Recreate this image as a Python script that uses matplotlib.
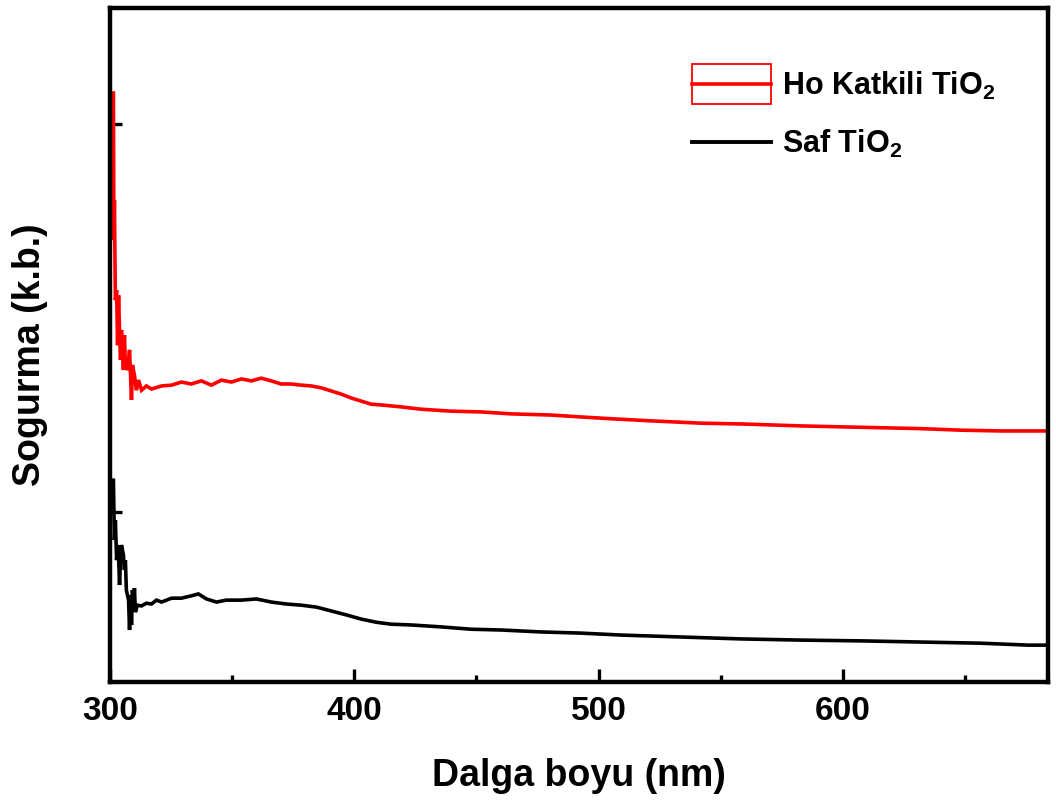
import matplotlib
matplotlib.use('Agg')
import matplotlib.pyplot as plt
from matplotlib.patches import Rectangle
from matplotlib.lines import Line2D
from matplotlib.legend_handler import HandlerBase

# ---------------- data ----------------
wavelength_ho = [301.4, 301.6, 301.8, 302.2, 302.7, 303.1, 303.5, 303.9, 304.3, 304.7,
                 305.1, 305.5, 305.9, 306.3, 307.2, 308.0, 308.8, 309.2, 310.0, 310.8,
                 311.7, 312.9, 314.9, 317.0, 321.1, 325.2, 329.2, 333.3, 337.4, 341.5,
                 345.6, 349.7, 353.8, 357.9, 361.9, 366.0, 370.1, 374.2, 378.3, 382.4,
                 386.5, 390.6, 394.6, 398.7, 402.8, 406.9, 411.0, 419.2, 427.4, 439.7,
                 452.0, 464.2, 480.6, 492.9, 506.4, 521.5, 542.0, 558.3, 582.9, 603.3,
                 631.9, 648.3, 664.6, 684.0]
absorb_ho = [2.080, 1.701, 1.804, 1.546, 1.572, 1.430, 1.559, 1.469, 1.392, 1.469,
             1.418, 1.366, 1.456, 1.379, 1.366, 1.418, 1.289, 1.379, 1.353, 1.314,
             1.340, 1.314, 1.325, 1.317, 1.325, 1.327, 1.335, 1.330, 1.338, 1.327,
             1.340, 1.335, 1.343, 1.338, 1.345, 1.338, 1.330, 1.330, 1.327, 1.325,
             1.320, 1.312, 1.304, 1.294, 1.286, 1.278, 1.276, 1.271, 1.265, 1.260,
             1.258, 1.253, 1.250, 1.245, 1.240, 1.235, 1.229, 1.227, 1.222, 1.219,
             1.215, 1.211, 1.209, 1.209]

wavelength_saf = [301.4, 301.8, 302.2, 302.7, 303.1, 303.5, 303.9, 304.3, 304.7, 305.5,
                  305.9, 306.3, 306.7, 307.6, 308.0, 308.4, 308.8, 309.2, 309.6, 310.0,
                  310.4, 311.2, 312.9, 314.9, 317.0, 319.0, 321.1, 325.2, 329.2, 333.3,
                  336.2, 339.5, 343.6, 347.6, 353.8, 359.9, 366.1, 372.2, 378.3, 384.5,
                  390.6, 396.7, 402.9, 409.0, 415.1, 423.3, 435.6, 447.9, 460.1, 476.5,
                  492.8, 509.2, 533.7, 558.3, 582.8, 607.4, 631.9, 656.4, 676.0, 684.0]
absorb_saf = [1.082, 0.928, 0.979, 0.876, 0.915, 0.889, 0.812, 0.876, 0.915, 0.889,
              0.851, 0.876, 0.799, 0.773, 0.696, 0.786, 0.709, 0.799, 0.747, 0.804,
              0.742, 0.760, 0.758, 0.765, 0.763, 0.773, 0.768, 0.778, 0.778, 0.784,
              0.789, 0.776, 0.768, 0.773, 0.773, 0.776, 0.768, 0.763, 0.760, 0.755,
              0.745, 0.735, 0.724, 0.716, 0.711, 0.709, 0.704, 0.698, 0.696, 0.691,
              0.688, 0.683, 0.678, 0.673, 0.670, 0.668, 0.665, 0.662, 0.657, 0.657]

x_major_ticks = [300, 400, 500, 600]
x_minor_ticks = [350, 450, 550, 650]
y_major_ticks = [1.0, 2.0]
series_labels = ['Ho Katkili TiO$_{2}$', 'Saf TiO$_{2}$']
x_label = 'Dalga boyu (nm)'
y_label = 'Sogurma (k.b.)'

# ---------------- style ----------------
plt.rcParams['font.family'] = ['Liberation Sans', 'DejaVu Sans']
plt.rcParams['font.weight'] = 'bold'
plt.rcParams['mathtext.fontset'] = 'custom'
plt.rcParams['mathtext.rm'] = 'Liberation Sans:bold'
plt.rcParams['mathtext.it'] = 'Liberation Sans:bold'
plt.rcParams['mathtext.bf'] = 'Liberation Sans:bold'

fig = plt.figure(figsize=(10.56, 8.05), dpi=100)
ax = fig.add_axes([110 / 1056, 1 - 682 / 805, 938 / 1056, 674 / 805])

ax.plot(wavelength_ho, absorb_ho, color='#ff0000', lw=2.6, solid_joinstyle='miter')
ax.plot(wavelength_saf, absorb_saf, color='black', lw=2.6, solid_joinstyle='miter')

ax.set_xlim(300, 684)
ax.set_ylim(0.562, 2.299)
ax.set_xticks(x_major_ticks)
ax.set_xticks(x_minor_ticks, minor=True)
ax.set_yticks(y_major_ticks)
ax.set_yticklabels([])
ax.tick_params(axis='x', which='major', direction='in', length=9.5, width=2.4,
               labelsize=24, pad=10, top=False)
ax.tick_params(axis='x', which='minor', direction='in', length=5, width=2.4, top=False)
ax.tick_params(axis='y', which='major', direction='in', length=8.5, width=2.4,
               right=False)
for lbl in ax.get_xticklabels():
    lbl.set_fontweight('bold')

for sp in ax.spines.values():
    sp.set_linewidth(3.2)

ax.set_xlabel(x_label, fontsize=27, fontweight='bold')
ax.xaxis.set_label_coords(0.5, -0.113)
ax.set_ylabel(y_label, fontsize=27, fontweight='bold')
ax.yaxis.set_label_coords(-0.066, 0.485)


class BoxLineHandler(HandlerBase):
    def create_artists(self, legend, orig_handle, xdescent, ydescent, width,
                       height, fontsize, trans):
        yc = (height - ydescent) / 2.0
        rh = 1.3 * fontsize
        rect = Rectangle((-xdescent, yc - rh / 2.0), width, rh, facecolor='none',
                         edgecolor='#ff0000', lw=1.3, transform=trans)
        line = Line2D([-xdescent, -xdescent + width], [yc, yc], color='#ff0000',
                      lw=2.6, transform=trans)
        return [rect, line]


red_handle = Rectangle((0, 0), 1, 1)
black_handle = Line2D([0], [0], color='black', lw=2.8)
leg = ax.legend([red_handle, black_handle], series_labels,
                handler_map={Rectangle: BoxLineHandler()},
                loc='upper left', bbox_to_anchor=(692 / 1056, 1 - 70 / 805),
                bbox_transform=fig.transFigure, frameon=False, fontsize=22,
                handlelength=2.6, handletextpad=0.33, labelspacing=0.85,
                borderpad=0, borderaxespad=0)
for t in leg.get_texts():
    t.set_fontweight('bold')

fig.savefig('out.png', dpi=100)
